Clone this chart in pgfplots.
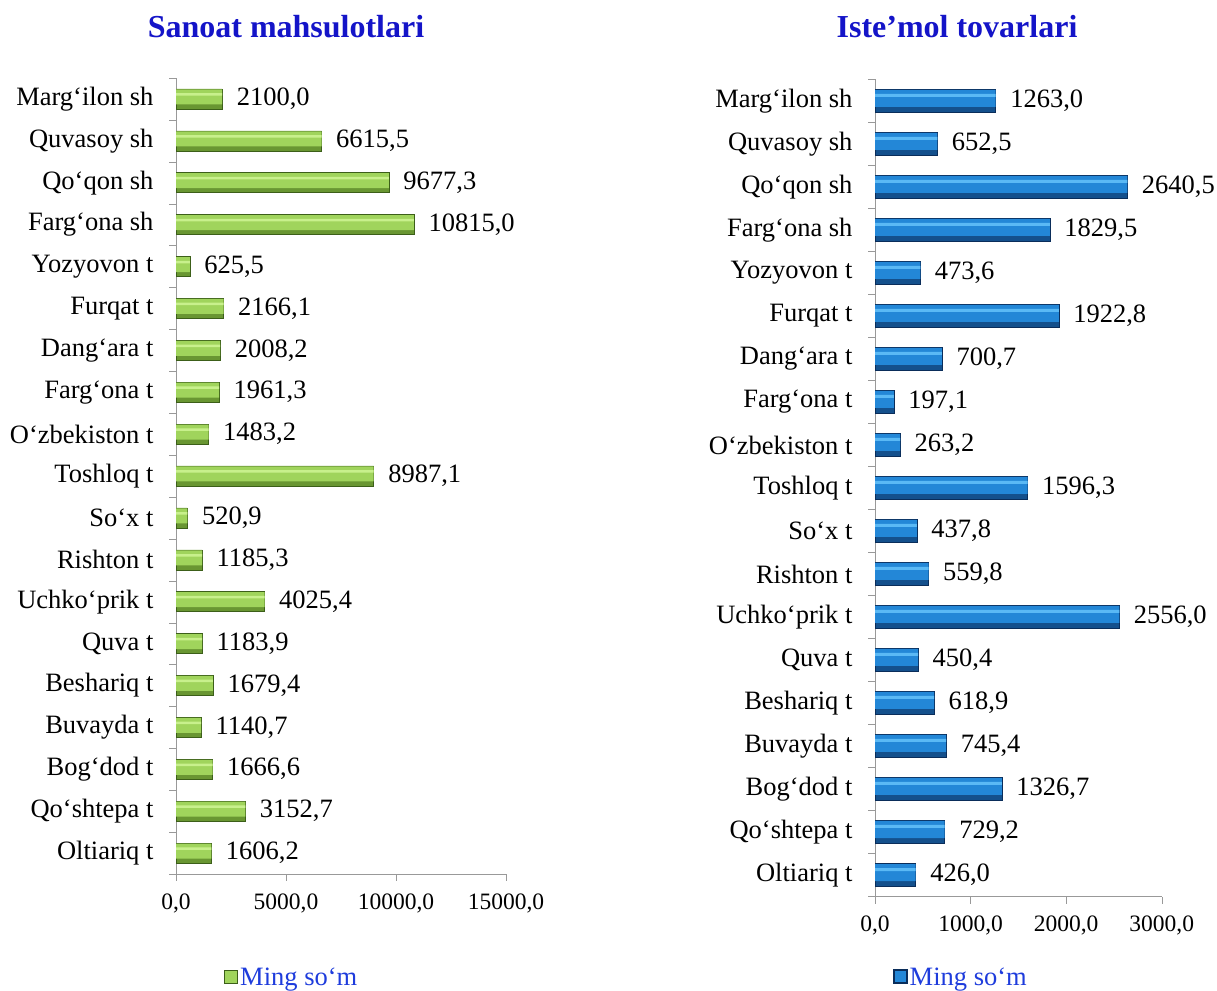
\documentclass[border=0pt]{standalone}
\usepackage{fontspec}
\setmainfont{Liberation Serif}
\usepackage{pgfplots}
\usepackage{pgfplotstable}
\pgfplotsset{compat=1.18}
\definecolor{titleblue}{RGB}{20,20,200}
\definecolor{legblue}{RGB}{30,60,220}
\definecolor{gbase}{RGB}{105,150,50}
\definecolor{gmain}{RGB}{160,212,92}
\definecolor{glight}{RGB}{200,240,140}
\definecolor{gdark}{RGB}{60,95,25}
\definecolor{bbase}{RGB}{20,80,140}
\definecolor{bmain}{RGB}{35,135,215}
\definecolor{blight}{RGB}{90,185,245}
\definecolor{bdark}{RGB}{10,45,90}
\pgfplotstableread{
y v
0 1606.2
1 3152.7
2 1666.6
3 1140.7
4 1679.4
5 1183.9
6 4025.4
7 1185.3
8 520.9
9 8987.1
10 1483.2
11 1961.3
12 2008.2
13 2166.1
14 625.5
15 10815.0
16 9677.3
17 6615.5
18 2100.0
}\sanoat
\pgfplotstableread{
y v
0 426.0
1 729.2
2 1326.7
3 745.4
4 618.9
5 450.4
6 2556.0
7 559.8
8 437.8
9 1596.3
10 263.2
11 197.1
12 700.7
13 1922.8
14 473.6
15 1829.5
16 2640.5
17 652.5
18 1263.0
}\istemol
\pgfplotsset{
  common/.style={
    scale only axis,
    ymin=-0.5, ymax=18.5,
    ytick={0,...,18},
    yticklabels={Oltiariq t,Qo‘shtepa t,Bog‘dod t,Buvayda t,Beshariq t,Quva t,Uchko‘prik t,Rishton t,So‘x t,Toshloq t,O‘zbekiston t,Farg‘ona t,Dang‘ara t,Furqat t,Yozyovon t,Farg‘ona sh,Qo‘qon sh,Quvasoy sh,Marg‘ilon sh},
    minor ytick={-0.5,0.5,...,18.5},
    xbar,
    scaled x ticks=false,
    axis x line*=bottom, axis y line*=left,
    axis line style={gray!80},
    tick align=outside,
    major tick length=7pt, minor tick length=7pt,
    major y tick style={draw=none},
    minor y tick style={gray!80},
    x tick style={gray!80},
    xticklabel style={font=\fontsize{23.5}{26}\selectfont, yshift=-9pt},
    yticklabel style={font=\fontsize{26.5}{30}\selectfont, xshift=-12pt},
    /pgf/number format/fixed,
    /pgf/number format/fixed zerofill,
    /pgf/number format/precision=1,
    /pgf/number format/use comma,
    /pgf/number format/1000 sep={},
    /pgf/number format/assume math mode=true,
    nodes near coords style={font=\fontsize{26.5}{30}\selectfont, anchor=west, xshift=11pt, text=black},
    legend style={draw=none, fill=none, font=\fontsize{26.5}{30}\selectfont, text=legblue, anchor=center},
  }
}
\begin{document}
\begin{tikzpicture}[x=1pt,y=1pt]
\useasboundingbox (0,0) rectangle (1217,990);
\node[font=\bfseries\fontsize{32}{36}\selectfont, text=titleblue] at (286,963) {Sanoat mahsulotlari};
\node[font=\bfseries\fontsize{32}{36}\selectfont, text=titleblue] at (957,963) {Iste’mol tovarlari};
\begin{axis}[common,
  at={(176pt,116pt)}, anchor=south west,
  width=330pt, height=796pt,
  xmin=0, xmax=15000, xtick={0,5000,10000,15000},
  legend style={at={(0.35,-0.13)}},
]
\addplot[xbar, bar width=20pt, bar shift=0pt, fill=gbase, draw=gdark, line width=0.5pt, nodes near coords,
  legend image code/.code={\draw[fill=gmain, draw=gdark, line width=1.5pt] (0pt,-6pt) rectangle (13pt,7pt);}]
  table[x=v, y=y] {\sanoat};
\addlegendentry{Ming so‘m}
\addplot[xbar, bar width=15pt, bar shift=2pt, fill=gmain, draw=none, forget plot] table[x=v, y=y] {\sanoat};
\addplot[xbar, bar width=2.5pt, bar shift=4.5pt, fill=glight, draw=none, forget plot] table[x=v, y=y] {\sanoat};
\end{axis}
\begin{axis}[common,
  at={(875pt,93.5pt)}, anchor=south west,
  width=286.7pt, height=817pt,
  xmin=0, xmax=3000, xtick={0,1000,2000,3000},
  legend style={at={(0.30,-0.0985)}},
]
\addplot[xbar, bar width=23pt, bar shift=0pt, fill=bbase, draw=bdark, line width=0.5pt, nodes near coords,
  legend image code/.code={\draw[fill=bmain, draw=bdark, line width=1.5pt] (0pt,-6pt) rectangle (13pt,7pt);}]
  table[x=v, y=y] {\istemol};
\addlegendentry{Ming so‘m}
\addplot[xbar, bar width=17pt, bar shift=2.5pt, fill=bmain, draw=none, forget plot] table[x=v, y=y] {\istemol};
\addplot[xbar, bar width=3pt, bar shift=5.5pt, fill=blight, draw=none, forget plot] table[x=v, y=y] {\istemol};
\end{axis}
\end{tikzpicture}
\end{document}
